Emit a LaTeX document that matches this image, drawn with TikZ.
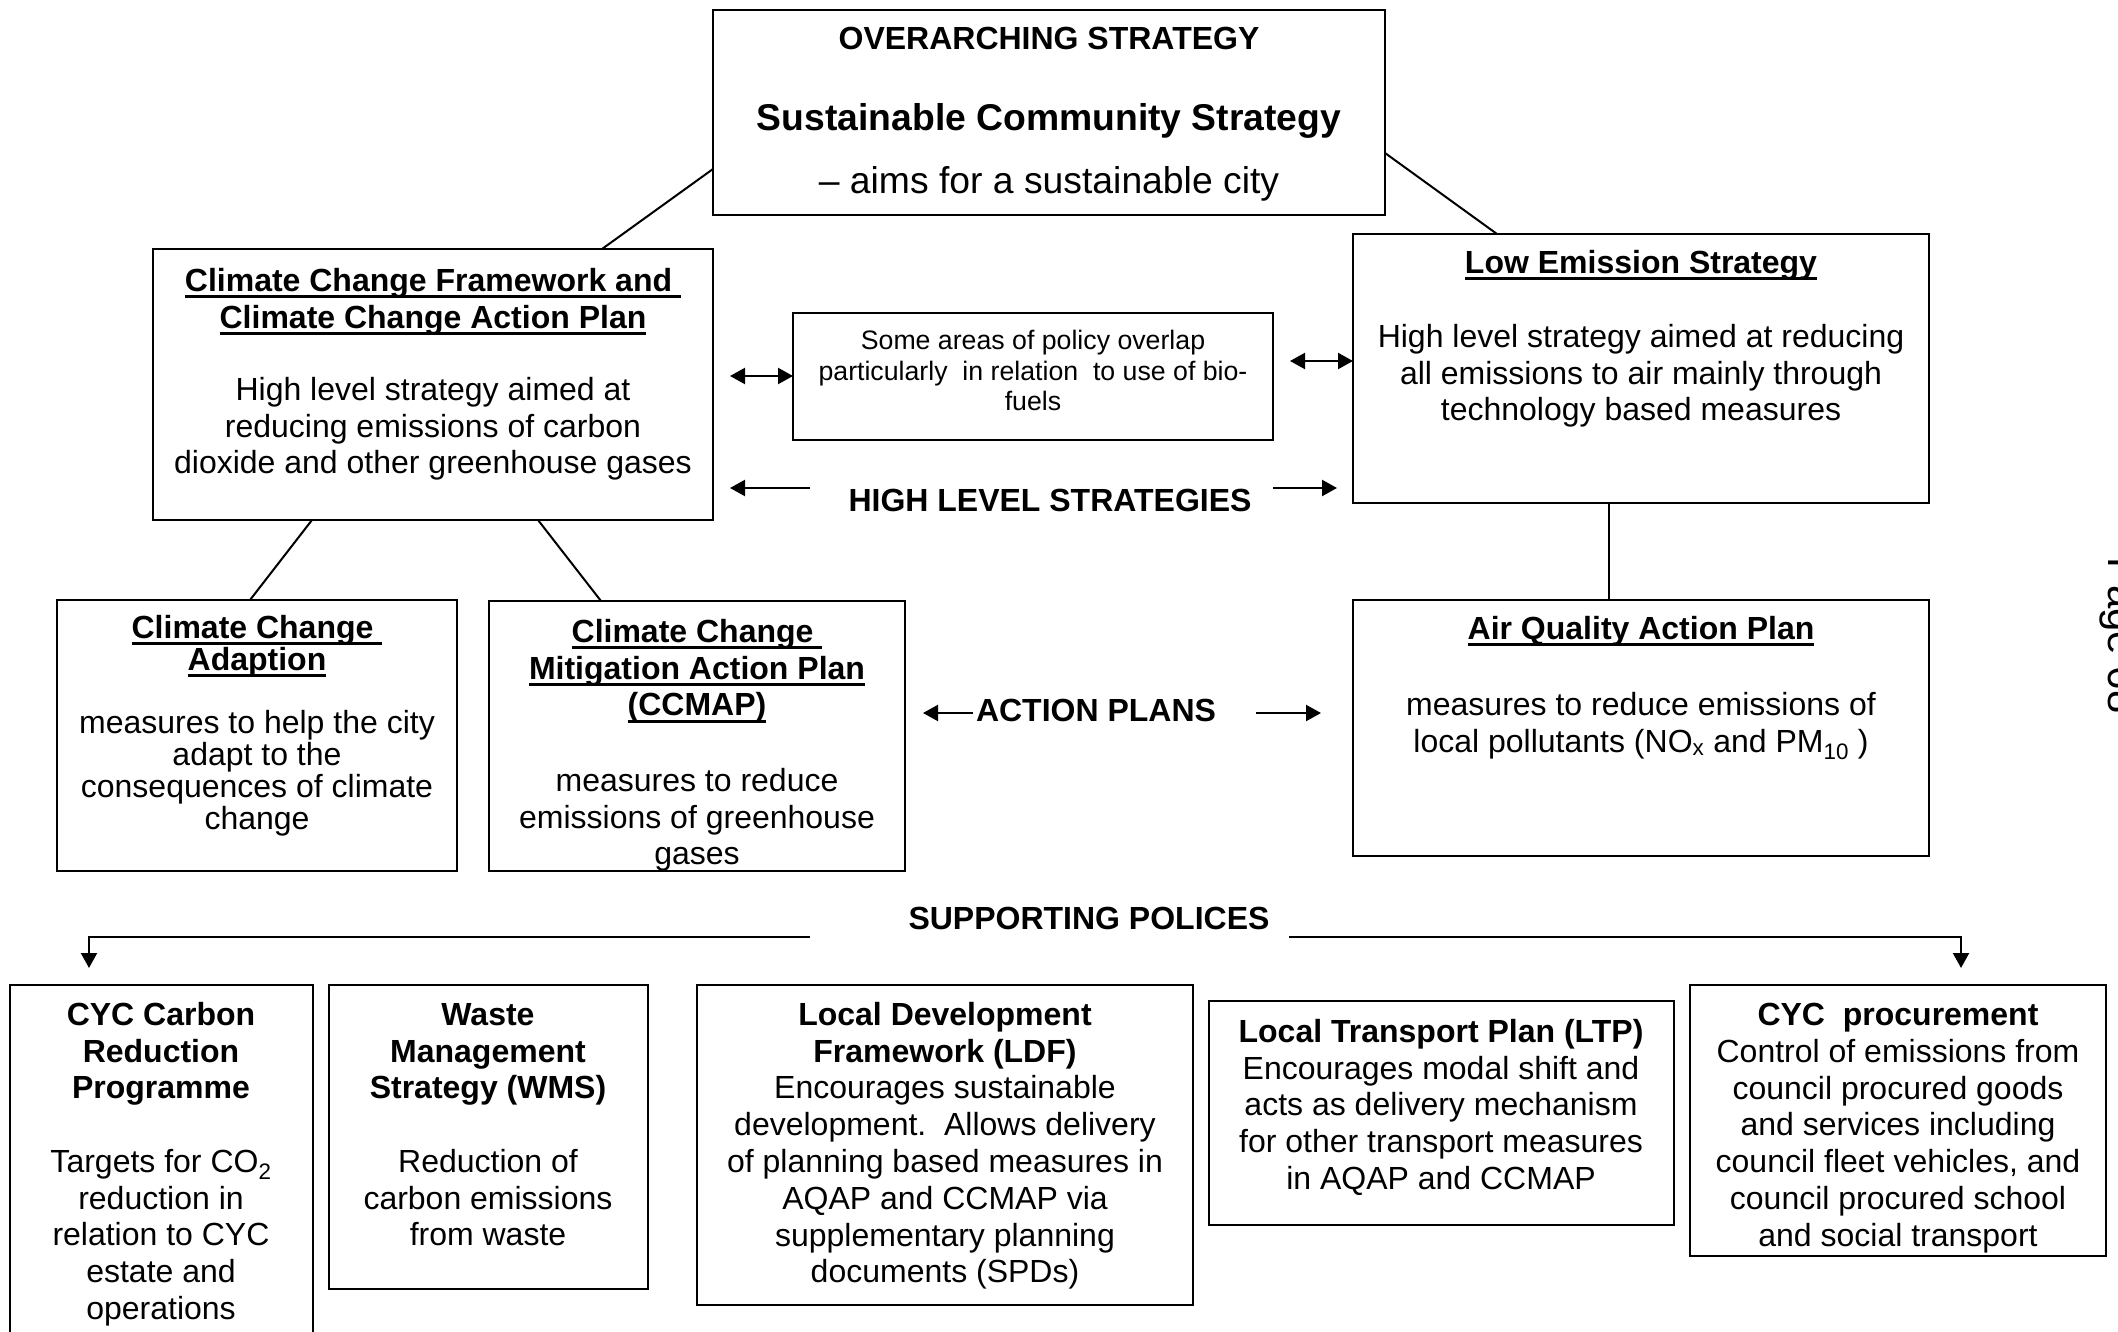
\documentclass[tikz,border=0pt]{standalone}
\usepackage{fontspec}
\setmainfont{Liberation Sans}
\usetikzlibrary{arrows.meta}
\newcommand\fsz[2]{\fontsize{#1}{#2}\selectfont}
\newcommand\ulx[1]{\setbox0\hbox{#1}\rlap{\rule[-7pt]{\wd0}{3pt}}\box0}
\tikzset{
  bx/.style={draw, line width=2.2pt, inner sep=0pt, outer sep=0pt, anchor=north west},
  tx/.style={align=center, inner sep=0pt, anchor=north, font=\fsz{32}{36.8}, execute at begin node={\rule{0pt}{25pt}}},
  txb/.style={tx, font=\fsz{32}{36.8}\bfseries},
  txn/.style={tx, font=\fsz{32}{32}},
  txnb/.style={tx, font=\fsz{32}{32}\bfseries},
  txs/.style={align=center, inner sep=0pt, anchor=north, font=\fsz{26.7}{30.5}, execute at begin node={\rule{0pt}{21pt}}},
  one/.style={inner sep=0pt, anchor=base, font=\fsz{32}{36.8}\bfseries},
  conn/.style={line width=2pt},
  arr/.style={line width=2.2pt, -{Triangle[length=15pt,width=16pt]}},
  darr/.style={line width=2.2pt, {Triangle[length=15pt,width=16pt]}-{Triangle[length=15pt,width=16pt]}}
}
\begin{document}
\begin{tikzpicture}[x=1pt,y=1pt]
\fill[white] (0,0) rectangle (2118,-1332);
\useasboundingbox (0,0) rectangle (2118,-1332);

% boxes
\node[bx, minimum width=672pt, minimum height=205pt] (top) at (713,-10) {};
\node[bx, minimum width=560pt, minimum height=271pt] (ccf) at (153,-249) {};
\node[bx, minimum width=480pt, minimum height=127pt] (ovl) at (793,-313) {};
\node[bx, minimum width=576pt, minimum height=269pt] (les) at (1353,-234) {};
\node[bx, minimum width=400pt, minimum height=271pt] (cca) at (57,-600) {};
\node[bx, minimum width=416pt, minimum height=270pt] (ccmap) at (489,-601) {};
\node[bx, minimum width=576pt, minimum height=256pt] (aqap) at (1353,-600) {};
\node[bx, minimum width=303pt, minimum height=370pt] (cyc) at (10,-985) {};
\node[bx, minimum width=319pt, minimum height=304pt] (wms) at (329,-985) {};
\node[bx, minimum width=496pt, minimum height=320pt] (ldf) at (697,-985) {};
\node[bx, minimum width=465pt, minimum height=224pt] (ltp) at (1209,-1001) {};
\node[bx, minimum width=416pt, minimum height=271pt] (proc) at (1690,-985) {};

% top box text
\node[one] (topA) at (1049,-50) {OVERARCHING STRATEGY};
\node[one, font=\fsz{37.3}{43}\bfseries] (topB) at (1049,-131) {Sustainable Community Strategy};
\node[one, font=\fsz{37.3}{43}] (topC) at (1049,-194) {-- aims for a sustainable city};

% climate change framework
\node[txb] (ccfT) at (433,-268) {\ulx{Climate Change Framework and\ }\\\ulx{Climate Change Action Plan}};
\node[tx] (ccfB) at (433,-377) {High level strategy aimed at\\reducing emissions of carbon\\dioxide and other greenhouse gases};

% overlap
\node[txs] (ovlT) at (1033,-330) {Some areas of policy overlap\\particularly\ \ in relation\ \ to use of bio-\\fuels};

% low emission strategy
\node[txb] (lesT) at (1641,-248) {\ulx{Low Emission Strategy}};
\node[tx] (lesB) at (1641,-324) {High level strategy aimed at reducing\\all emissions to air mainly through\\technology based measures};

\node[one] (hls) at (1050,-511) {HIGH LEVEL STRATEGIES};

% adaption
\node[txnb] (ccaT) at (257,-615) {\ulx{Climate Change\ }\\\ulx{Adaption}};
\node[txn] (ccaB) at (257,-710) {measures to help the city\\adapt to the\\consequences of climate\\change};

% CCMAP
\node[txb] (ccmapT) at (697,-619) {\ulx{Climate Change\ }\\\ulx{Mitigation Action Plan}\\\ulx{(CCMAP)}};
\begin{scope}
\clip ([shift={(1pt,-1pt)}]ccmap.north west) rectangle ([shift={(-1pt,1pt)}]ccmap.south east);
\node[tx] (ccmapB) at (697,-768) {measures to reduce\\emissions of greenhouse\\gases};
\end{scope}

\node[one] (apl) at (1096,-721) {ACTION PLANS};

% AQAP
\node[txb] (aqapT) at (1641,-614) {\ulx{Air Quality Action Plan}};
\node[tx] (aqapB) at (1641,-692) {measures to reduce emissions of\\local pollutants (NO\textsubscript{x} and PM\textsubscript{10} )};

\node[one] (spl) at (1089,-929) {SUPPORTING POLICES};

% bottom row
\node[txb] (cycT) at (161,-1002) {CYC Carbon\\Reduction\\Programme};
\node[tx] (cycB) at (161,-1149) {Targets for CO\textsubscript{2}\\reduction in\\relation to CYC\\estate and\\operations};

\node[txb] (wmsT) at (488,-1003) {Waste\\Management\\Strategy (WMS)};
\node[tx] (wmsB) at (488,-1149) {Reduction of\\carbon emissions\\from waste};

\node[tx] (ldfT) at (945,-1002) {\textbf{Local Development}\\\textbf{Framework (LDF)}\\Encourages sustainable\\development.\ \ Allows delivery\\of planning based measures in\\AQAP and CCMAP via\\supplementary planning\\documents (SPDs)};

\node[tx] (ltpT) at (1441,-1019) {\textbf{Local Transport Plan (LTP)}\\Encourages modal shift and\\acts as delivery mechanism\\for other transport measures\\in AQAP and CCMAP};

\begin{scope}
\clip ([shift={(1pt,-1pt)}]proc.north west) rectangle ([shift={(-1pt,1pt)}]proc.south east);
\node[tx] (procT) at (1898,-1003) {\textbf{CYC\ \ procurement}\\Control of emissions from\\council procured goods\\and services including\\council fleet vehicles, and\\council procured school\\and social transport};
\end{scope}

% page number
\node[rotate=-90, anchor=base west, inner sep=0pt, font=\fsz{42}{48}] (pg) at (2108,-557) {Page 68};

% connectors
\draw[conn] ([yshift=46pt]top.south west) -- ([xshift=-111pt]ccf.north east);
\draw[conn] ([yshift=62pt]top.south east) -- ([xshift=144pt]les.north west);
\draw[conn] ([xshift=159pt]ccf.south west) -- ([xshift=193pt]cca.north west);
\draw[conn] ([xshift=385pt]ccf.south west) -- ([xshift=112pt]ccmap.north west);
\draw[conn] ([xshift=256pt]les.south west) -- ([xshift=256pt]aqap.north west);

\coordinate (yA) at (0,-376);
\coordinate (yB) at (0,-361);
\coordinate (a1) at ([xshift=17pt]ccf.east);
\coordinate (a2) at ([xshift=17pt]ovl.east);
\draw[darr] (a1 |- yA) -- (ovl.west |- yA);
\draw[darr] (a2 |- yB) -- (les.west |- yB);

\coordinate (hlA) at (810,-488);
\coordinate (hlB) at (730,-488);
\coordinate (hrA) at (1273,-488);
\coordinate (hrB) at (1337,-488);
\draw[arr] (hlA) -- (hlB);
\draw[arr] (hrA) -- (hrB);

\coordinate (alA) at (973,-713);
\coordinate (alB) at (923,-713);
\coordinate (arA) at (1256,-713);
\coordinate (arB) at (1321,-713);
\draw[arr] (alA) -- (alB);
\draw[arr] (arA) -- (arB);

\coordinate (spL) at (810,-937);
\coordinate (spR) at (1289,-937);
\draw[arr] (spL) -| ([xshift=79pt,yshift=17pt]cyc.north west);
\draw[arr] (spR) -| ([xshift=271pt,yshift=17pt]proc.north west);
\end{tikzpicture}
\end{document}
